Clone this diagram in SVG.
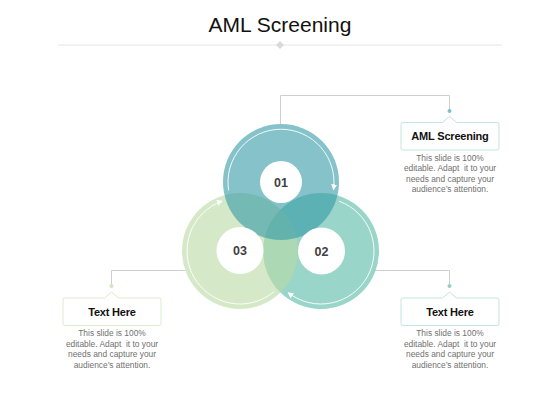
<svg xmlns="http://www.w3.org/2000/svg" width="560" height="420" viewBox="0 0 560 420">
<defs>
<style>
.title{font-family:"Liberation Sans",Arial,sans-serif;font-size:21px;fill:#111;text-anchor:middle}
.num{font-family:"Liberation Sans",Arial,sans-serif;font-size:12.5px;font-weight:bold;fill:#404040;text-anchor:middle}
.head{font-family:"Liberation Sans",Arial,sans-serif;font-size:11px;font-weight:bold;fill:#111;text-anchor:middle;letter-spacing:-0.2px}
.desc{font-family:"Liberation Sans",Arial,sans-serif;font-size:8.4px;fill:#707070;text-anchor:middle}
.conn{fill:none;stroke:#cfcfcf;stroke-width:1}
.arc{fill:none;stroke:#fff;stroke-width:1;stroke-opacity:0.9}
.hole{fill:#fff}
</style>
<marker id="ah" markerUnits="userSpaceOnUse" markerWidth="7" markerHeight="7" refX="5" refY="3" orient="auto">
<path d="M0,0 L6,3 L0,6 z" fill="#fff"/>
</marker>
</defs>
<rect width="560" height="420" fill="#fff"/>
<g id="title">
<text class="title" x="280" y="32">AML Screening</text>
<line x1="58" y1="45" x2="502" y2="45" stroke="#e6e6e6" stroke-width="1"/>
<path d="M280,41 L284,45 L280,49 L276,45 z" fill="#d9d9d9"/>
</g>
<g id="connectors">
<path class="conn" d="M280.5,124 V95.5 H449.5 V110"/>
<path class="conn" d="M375,270.5 H449.5 V286"/>
<path class="conn" d="M185.5,270.5 H111.5 V286"/>
<circle cx="449.5" cy="111" r="2" fill="#7cc4c4"/>
<circle cx="449.5" cy="286" r="2" fill="#8fd0c4"/>
<circle cx="111.5" cy="286" r="2" fill="#cfe6bf"/>
</g>
<g id="rings">
<circle cx="321" cy="251" r="58" fill="#57b9a7" fill-opacity="0.6"/>
<circle cx="240" cy="251" r="58" fill="#b9daa3" fill-opacity="0.6"/>
<circle cx="281" cy="182" r="58" fill="#339aa6" fill-opacity="0.6"/>
</g>
<g id="node01">
<circle class="hole" cx="281" cy="182" r="21"/>
<path class="arc" d="M228.6,190.3 A53,53 0 1 1 333.5,189.4" marker-end="url(#ah)"/>
<text class="num" x="281" y="186.5">01</text>
</g>
<g id="node02">
<circle class="hole" cx="321.5" cy="251" r="23.5"/>
<path class="arc" d="M339.1,201.2 A53,53 0 1 1 288.4,292.8" marker-end="url(#ah)"/>
<text class="num" x="321.5" y="255.5">02</text>
</g>
<g id="node03">
<circle class="hole" cx="240" cy="250.5" r="23.5"/>
<path class="arc" d="M274.1,291.6 A53,53 0 1 1 221.9,201.2" marker-end="url(#ah)"/>
<text class="num" x="240" y="255">03</text>
</g>
<g id="callout-top">
<path d="M403,122.5 H442.5 L449.5,116.5 L456.5,122.5 H497 Q499,122.5 499,124.5 V148 Q499,150 497,150 H403 Q401,150 401,148 V124.5 Q401,122.5 403,122.5 z" fill="#fff" stroke="#c5e4e0" stroke-width="1"/>
<text class="head" x="450" y="140">AML Screening</text>
<text class="desc" x="450" y="160.5">This slide is 100%</text>
<text class="desc" x="450" y="171" xml:space="preserve">editable. Adapt  it to your</text>
<text class="desc" x="450" y="181.5">needs and capture your</text>
<text class="desc" x="450" y="192">audience’s attention.</text>
</g>
<g id="callout-right">
<path d="M403,298 H442.5 L449.5,292 L456.5,298 H497 Q499,298 499,300 V323.5 Q499,325.5 497,325.5 H403 Q401,325.5 401,323.5 V300 Q401,298 403,298 z" fill="#fff" stroke="#c5e4e0" stroke-width="1"/>
<text class="head" x="450" y="316">Text Here</text>
<text class="desc" x="450" y="336">This slide is 100%</text>
<text class="desc" x="450" y="346.5" xml:space="preserve">editable. Adapt  it to your</text>
<text class="desc" x="450" y="357">needs and capture your</text>
<text class="desc" x="450" y="367.5">audience’s attention.</text>
</g>
<g id="callout-left">
<path d="M65,298 H104.5 L111.5,292 L118.5,298 H159 Q161,298 161,300 V323.5 Q161,325.5 159,325.5 H65 Q63,325.5 63,323.5 V300 Q63,298 65,298 z" fill="#fff" stroke="#dcebd0" stroke-width="1"/>
<text class="head" x="112" y="316">Text Here</text>
<text class="desc" x="112" y="336">This slide is 100%</text>
<text class="desc" x="112" y="346.5" xml:space="preserve">editable. Adapt  it to your</text>
<text class="desc" x="112" y="357">needs and capture your</text>
<text class="desc" x="112" y="367.5">audience’s attention.</text>
</g>
</svg>
